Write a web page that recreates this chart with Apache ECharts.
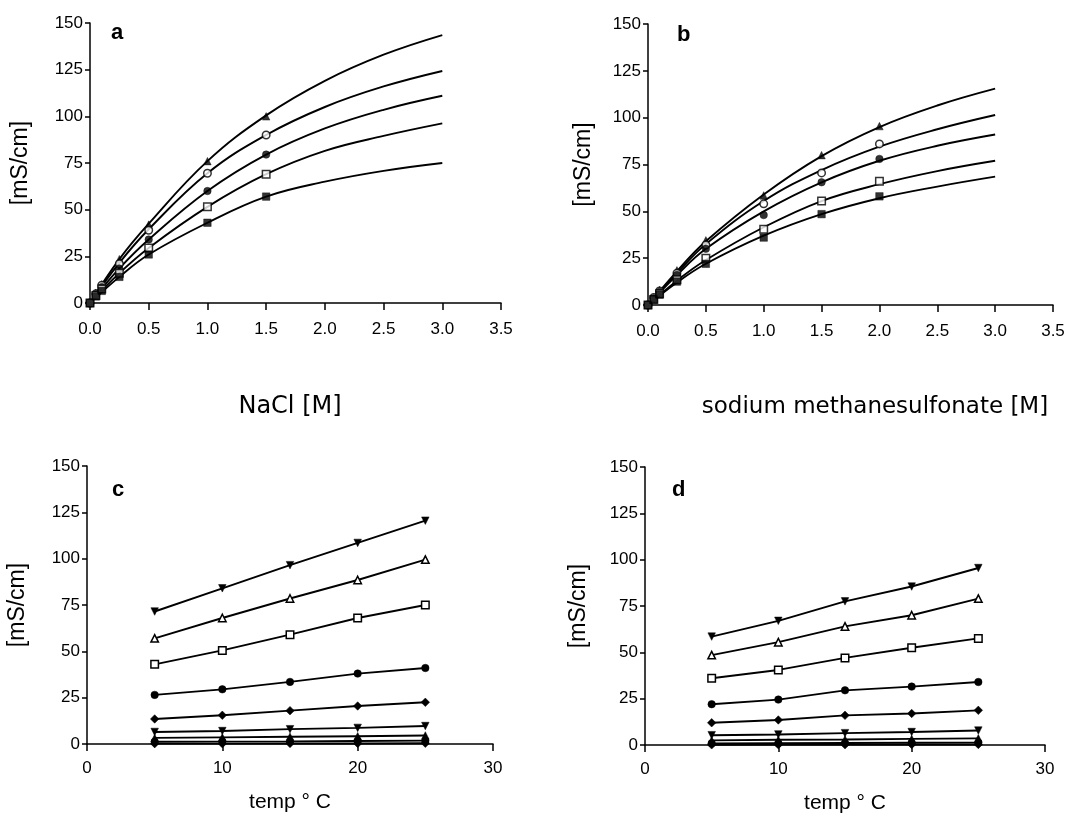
<!DOCTYPE html>
<html><head><meta charset="utf-8">
<script src="https://cdn.jsdelivr.net/npm/echarts@6/dist/echarts.min.js"></script>
<style>html,body{margin:0;padding:0;background:#fff}#c{width:1085px;height:815px}</style>
</head><body><div id="c"></div>
<script>
// ---------- Panel a: NaCl [M] ----------
const aConc = [0, 0.05, 0.1, 0.25, 0.5, 1.0, 1.5];
const aTriFilled  = [0, 5.5, 10, 23.5, 42, 76, 100];
const aCircOpen   = [0, 5, 9.5, 21, 39, 69.5, 90];
const aCircFilled = [0, 4.5, 8.5, 18.5, 34, 60, 79.5];
const aSqOpen     = [0, 4, 7.5, 16, 29.5, 51.5, 69];
const aSqFilled   = [0, 3.5, 6.5, 14, 26, 43, 57];
const aFitConc = [0, 0.25, 0.5, 1.0, 1.5, 2.0, 2.5, 3.0];
const aFit1 = [0, 23.5, 42.5, 76, 100.5, 119, 133, 143.5];
const aFit2 = [0, 21.5, 39.5, 69.5, 90, 105, 116, 124.3];
const aFit3 = [0, 18.5, 34, 60, 79.5, 93.5, 103.5, 111];
const aFit4 = [0, 16, 29.5, 51.5, 69, 81.5, 89.5, 96.2];
const aFit5 = [0, 14, 26, 43, 57, 65, 70.8, 75];

// ---------- Panel b: sodium methanesulfonate [M] ----------
const bConc = [0, 0.05, 0.1, 0.25, 0.5, 1.0, 1.5, 2.0];
const bTriFilled  = [0, 4, 8, 18.5, 34.5, 58.5, 80, 95.5];
const bCircOpen   = [0, 4, 7.5, 17, 32, 54, 70.5, 86];
const bCircFilled = [0, 3.5, 7, 16, 30, 48, 65.5, 78];
const bSqOpen     = [0, 3, 6, 13.5, 25, 40.5, 55.5, 66];
const bSqFilled   = [0, 3, 5.5, 12.5, 22, 36, 48.5, 58];
const bFitConc = [0, 0.25, 0.5, 1.0, 1.5, 2.0, 2.5, 3.0];
const bFit1 = [0, 18, 34, 59, 79.5, 95, 106.5, 115.5];
const bFit2 = [0, 17, 32.5, 55.5, 72, 84.5, 93.8, 101.4];
const bFit3 = [0, 16, 30, 50, 65.5, 77, 85, 91];
const bFit4 = [0, 13, 24, 41.5, 55.5, 64.5, 71.5, 77];
const bFit5 = [0, 12, 22, 37, 48.5, 57, 63.2, 68.5];

// ---------- Panels c, d: temperature ----------
const temps = [5, 10, 15, 20, 25];
const c1 = [71.5, 84, 96.5, 108.5, 120.5];
const c2 = [57, 68, 78.5, 88.5, 99.5];
const c3 = [43, 50.5, 59, 68, 75];
const c4 = [26.5, 29.5, 33.5, 38, 41];
const c5 = [13.5, 15.5, 18, 20.5, 22.5];
const c6 = [6.5, 7, 8, 8.7, 9.7];
const c7 = [3.3, 3.6, 3.9, 4.2, 4.6];
const c8 = [1.2, 1.3, 1.4, 1.6, 1.8];
const c9 = [0.2, 0.2, 0.3, 0.3, 0.4];
const d1 = [58.5, 67, 77.5, 85.5, 95.5];
const d2 = [48.5, 55.5, 64, 70, 79];
const d3 = [36, 40.5, 47, 52.5, 57.5];
const d4 = [22, 24.5, 29.5, 31.5, 34];
const d5 = [12, 13.5, 16, 17, 18.7];
const d6 = [5.3, 5.7, 6.4, 7, 7.8];
const d7 = [2.5, 2.8, 3.0, 3.3, 3.6];
const d8 = [0.9, 1.0, 1.1, 1.2, 1.3];
const d9 = [0.1, 0.2, 0.2, 0.3, 0.3];

const yTicks = [0, 25, 50, 75, 100, 125, 150];
const concTicks = ['0.0','0.5','1.0','1.5','2.0','2.5','3.0','3.5'];
const tempTicks = [0, 10, 20, 30];

const FONT = '"Liberation Sans", Arial, Helvetica, sans-serif';
const zip = (xs, ys) => xs.map((x, i) => [x, ys[i]]);

const MK = {
  triF:  {symbol: 'triangle', rot: 0, open: false},
  triO:  {symbol: 'triangle', rot: 0, open: true},
  dtriF: {symbol: 'triangle', rot: 180, open: false},
  circF: {symbol: 'circle', rot: 0, open: false},
  circO: {symbol: 'circle', rot: 0, open: true},
  sqF:   {symbol: 'rect', rot: 0, open: false},
  sqO:   {symbol: 'rect', rot: 0, open: true},
  diaF:  {symbol: 'diamond', rot: 0, open: false}
};
function markStyle(m) {
  return m.open ? {color: '#fff', borderColor: '#000', borderWidth: 1.5}
                : {color: '#000', borderColor: '#000', borderWidth: 0.5};
}
function symSize(m) { return m.symbol === 'diamond' ? 8.5 : 7.5; }
function fitLine(idx, xs, ys) {
  return {type: 'line', xAxisIndex: idx, yAxisIndex: idx, data: zip(xs, ys),
    smooth: 0.4, showSymbol: false, silent: true, z: 2,
    lineStyle: {color: '#000', width: 1.9}};
}
function marks(idx, xs, ys, m) {
  return {type: 'scatter', xAxisIndex: idx, yAxisIndex: idx, data: zip(xs, ys),
    symbol: m.symbol, symbolRotate: m.rot, symbolSize: symSize(m),
    itemStyle: markStyle(m), z: 3, silent: true};
}
function tempLine(idx, ys, m) {
  return {type: 'line', xAxisIndex: idx, yAxisIndex: idx, data: zip(temps, ys),
    symbol: m.symbol, symbolRotate: m.rot, symbolSize: symSize(m),
    showSymbol: true, itemStyle: markStyle(m), lineStyle: {color: '#000', width: 1.9},
    z: 3, silent: true};
}

function yAxisCfg(gi, gap) {
  return {type: 'value', gridIndex: gi, min: yTicks[0], max: yTicks[yTicks.length - 1], interval: 25,
    name: '[mS/cm]', nameLocation: 'middle', nameGap: gap, nameRotate: 90,
    nameTextStyle: {fontFamily: FONT, fontSize: 23, color: '#000'},
    axisLine: {show: true, lineStyle: {color: '#000', width: 1.5}},
    axisTick: {show: true, length: 5, lineStyle: {color: '#000', width: 1.5}},
    axisLabel: {color: '#000', fontFamily: FONT, fontSize: 17, margin: 7},
    splitLine: {show: false}};
}
function concAxis(gi) {
  return {type: 'value', gridIndex: gi, min: 0, max: 3.5, interval: 0.5,
    axisLine: {show: true, onZero: false, lineStyle: {color: '#000', width: 1.5}},
    axisTick: {show: true, length: 7, lineStyle: {color: '#000', width: 1.5}},
    axisLabel: {color: '#000', fontFamily: FONT, fontSize: 17, margin: 18,
      formatter: v => concTicks[Math.round(v / 0.5)]},
    splitLine: {show: false}};
}
function tempAxis(gi) {
  return {type: 'value', gridIndex: gi, min: tempTicks[0], max: tempTicks[tempTicks.length - 1], interval: 10,
    name: 'temp ° C', nameLocation: 'middle', nameGap: 48,
    nameTextStyle: {fontFamily: FONT, fontSize: 21, color: '#000'},
    axisLine: {show: true, onZero: false, lineStyle: {color: '#000', width: 1.5}},
    axisTick: {show: true, length: 7, lineStyle: {color: '#000', width: 1.5}},
    axisLabel: {color: '#000', fontFamily: FONT, fontSize: 17, margin: 16},
    splitLine: {show: false}};
}
function panelLabel(txt, x, y) {
  return {type: 'text', left: x, top: y, style: {text: txt, fontFamily: FONT, fontWeight: 'bold', fontSize: 22, fill: '#000'}};
}

const series = [
  fitLine(0, aFitConc, aFit1), fitLine(0, aFitConc, aFit2), fitLine(0, aFitConc, aFit3),
  fitLine(0, aFitConc, aFit4), fitLine(0, aFitConc, aFit5),
  marks(0, aConc, aTriFilled, MK.triF), marks(0, aConc, aCircOpen, MK.circO),
  marks(0, aConc, aCircFilled, MK.circF), marks(0, aConc, aSqOpen, MK.sqO),
  marks(0, aConc, aSqFilled, MK.sqF),
  fitLine(1, bFitConc, bFit1), fitLine(1, bFitConc, bFit2), fitLine(1, bFitConc, bFit3),
  fitLine(1, bFitConc, bFit4), fitLine(1, bFitConc, bFit5),
  marks(1, bConc, bTriFilled, MK.triF), marks(1, bConc, bCircOpen, MK.circO),
  marks(1, bConc, bCircFilled, MK.circF), marks(1, bConc, bSqOpen, MK.sqO),
  marks(1, bConc, bSqFilled, MK.sqF),
  tempLine(2, c1, MK.dtriF), tempLine(2, c2, MK.triO), tempLine(2, c3, MK.sqO),
  tempLine(2, c4, MK.circF), tempLine(2, c5, MK.diaF), tempLine(2, c6, MK.dtriF),
  tempLine(2, c7, MK.triF), tempLine(2, c8, MK.circF), tempLine(2, c9, MK.diaF),
  tempLine(3, d1, MK.dtriF), tempLine(3, d2, MK.triO), tempLine(3, d3, MK.sqO),
  tempLine(3, d4, MK.circF), tempLine(3, d5, MK.diaF), tempLine(3, d6, MK.dtriF),
  tempLine(3, d7, MK.triF), tempLine(3, d8, MK.circF), tempLine(3, d9, MK.diaF)
];

const chart = echarts.init(document.getElementById('c'), null, {renderer: 'canvas'});
chart.setOption({
  animation: false,
  backgroundColor: '#fff',
  grid: [
    {left: 90, top: 23, width: 411, height: 280},
    {left: 648, top: 24, width: 405, height: 281},
    {left: 87, top: 466, width: 406, height: 278},
    {left: 645, top: 467, width: 400, height: 278}
  ],
  xAxis: [concAxis(0), concAxis(1), tempAxis(2), tempAxis(3)],
  yAxis: [yAxisCfg(0, 58), yAxisCfg(1, 53), yAxisCfg(2, 58), yAxisCfg(3, 55)],
  graphic: [
    panelLabel('a', 111, 22), panelLabel('b', 677, 24),
    panelLabel('c', 112, 479), panelLabel('d', 672, 479),
    {type: 'text', x: 290, y: 407, style: {text: 'NaCl [M]', fontFamily: '"DejaVu Sans", sans-serif', fontSize: 24, fill: '#000', align: 'center', verticalAlign: 'middle'}},
    {type: 'text', x: 875, y: 407, style: {text: 'sodium methanesulfonate [M]', fontFamily: '"DejaVu Sans", sans-serif', fontSize: 23, fill: '#000', align: 'center', verticalAlign: 'middle'}}
  ],
  series: series
});
</script>
</body></html>
